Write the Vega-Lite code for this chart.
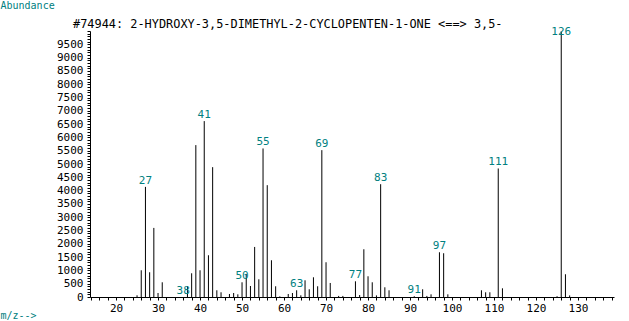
{
  "$schema": "https://vega.github.io/schema/vega-lite/v6.json",
  "width": 524,
  "height": 266,
  "autosize": {"type": "none"},
  "padding": {"left": 90, "top": 31, "right": 15, "bottom": 24},
  "background": "white",
  "title": {
    "text": "#74944: 2-HYDROXY-3,5-DIMETHYL-2-CYCLOPENTEN-1-ONE <==> 3,5-",
    "anchor": "start",
    "frame": "group",
    "dx": -17,
    "offset": -31,
    "font": "DejaVu Sans Mono",
    "fontSize": 11.9,
    "fontWeight": "normal",
    "color": "black"
  },
  "config": {"view": {"stroke": null}},
  "datasets": {
    "peaks": [
      {"mz": 25, "abundance": 64}, {"mz": 26, "abundance": 1005}, {"mz": 27, "abundance": 4140},
      {"mz": 28, "abundance": 930}, {"mz": 29, "abundance": 2597}, {"mz": 30, "abundance": 150},
      {"mz": 31, "abundance": 553}, {"mz": 37, "abundance": 403}, {"mz": 38, "abundance": 892},
      {"mz": 39, "abundance": 5710}, {"mz": 40, "abundance": 1005}, {"mz": 41, "abundance": 6613},
      {"mz": 42, "abundance": 1569}, {"mz": 43, "abundance": 4881}, {"mz": 44, "abundance": 252},
      {"mz": 45, "abundance": 177}, {"mz": 47, "abundance": 113}, {"mz": 48, "abundance": 150},
      {"mz": 49, "abundance": 100}, {"mz": 50, "abundance": 553}, {"mz": 51, "abundance": 866},
      {"mz": 52, "abundance": 414}, {"mz": 53, "abundance": 1882}, {"mz": 54, "abundance": 666},
      {"mz": 55, "abundance": 5585}, {"mz": 56, "abundance": 4204}, {"mz": 57, "abundance": 1381},
      {"mz": 58, "abundance": 403}, {"mz": 59, "abundance": 25}, {"mz": 61, "abundance": 113},
      {"mz": 62, "abundance": 150}, {"mz": 63, "abundance": 252}, {"mz": 64, "abundance": 64},
      {"mz": 65, "abundance": 628}, {"mz": 66, "abundance": 290}, {"mz": 67, "abundance": 741},
      {"mz": 68, "abundance": 403}, {"mz": 69, "abundance": 5521}, {"mz": 70, "abundance": 1306},
      {"mz": 71, "abundance": 527}, {"mz": 73, "abundance": 40}, {"mz": 74, "abundance": 40},
      {"mz": 77, "abundance": 590}, {"mz": 78, "abundance": 75}, {"mz": 79, "abundance": 1795},
      {"mz": 80, "abundance": 779}, {"mz": 81, "abundance": 553}, {"mz": 82, "abundance": 60},
      {"mz": 83, "abundance": 4241}, {"mz": 84, "abundance": 365}, {"mz": 85, "abundance": 252},
      {"mz": 91, "abundance": 30}, {"mz": 93, "abundance": 290}, {"mz": 94, "abundance": 40},
      {"mz": 95, "abundance": 100}, {"mz": 97, "abundance": 1682}, {"mz": 98, "abundance": 1645},
      {"mz": 99, "abundance": 100}, {"mz": 107, "abundance": 252}, {"mz": 108, "abundance": 177},
      {"mz": 109, "abundance": 177}, {"mz": 111, "abundance": 4832}, {"mz": 112, "abundance": 327},
      {"mz": 125, "abundance": 30}, {"mz": 126, "abundance": 9990}, {"mz": 127, "abundance": 855},
      {"mz": 128, "abundance": 60}
    ],
    "labels": [
      {"mz": 27, "abundance": 4140, "t": "27"},
      {"mz": 36, "abundance": 0, "t": "38"},
      {"mz": 41, "abundance": 6613, "t": "41"},
      {"mz": 50, "abundance": 553, "t": "50"},
      {"mz": 55, "abundance": 5585, "t": "55"},
      {"mz": 63, "abundance": 252, "t": "63"},
      {"mz": 69, "abundance": 5521, "t": "69"},
      {"mz": 77, "abundance": 590, "t": "77"},
      {"mz": 83, "abundance": 4241, "t": "83"},
      {"mz": 91, "abundance": 30, "t": "91"},
      {"mz": 97, "abundance": 1682, "t": "97"},
      {"mz": 111, "abundance": 4832, "t": "111"},
      {"mz": 126, "abundance": 9730, "t": "126"}
    ]
  },
  "layer": [
    {
      "data": {"name": "peaks"},
      "mark": {"type": "rule", "color": "black", "strokeWidth": 1},
      "encoding": {
        "x": {
          "field": "mz",
          "type": "quantitative",
          "scale": {"domain": [13.8, 138.56], "nice": false, "zero": false},
          "axis": {
            "title": "m/z-->",
            "titleX": -90,
            "titleY": 18,
            "titleAlign": "left",
            "titleBaseline": "middle",
            "titleAngle": 0,
            "titleColor": "#008080",
            "titleFont": "DejaVu Sans Mono",
            "titleFontSize": 10,
            "titleFontWeight": "normal",
            "tickCount": 62,
            "labelExpr": "datum.value % 10 === 0 ? datum.label : ''",
            "labelOverlap": false,
            "labelFlush": false,
            "tickSize": 3,
            "domainColor": "black",
            "tickColor": "black",
            "labelColor": "black",
            "labelFont": "DejaVu Sans Mono",
            "labelFontSize": 11,
            "labelPadding": 2,
            "grid": false
          }
        },
        "y": {
          "field": "abundance",
          "type": "quantitative",
          "scale": {"domain": [0, 10000], "nice": false},
          "axis": {
            "title": "Abundance",
            "titleX": -90,
            "titleY": -26,
            "titleAlign": "left",
            "titleBaseline": "middle",
            "titleAngle": 0,
            "titleColor": "#008080",
            "titleFont": "DejaVu Sans Mono",
            "titleFontSize": 10,
            "titleFontWeight": "normal",
            "tickCount": 100,
            "format": "d",
            "labelExpr": "datum.value % 500 === 0 && datum.value < 10000 ? datum.label : ''",
            "labelOverlap": false,
            "labelFlush": false,
            "tickSize": 3,
            "domainColor": "black",
            "tickColor": "black",
            "labelColor": "black",
            "labelFont": "DejaVu Sans Mono",
            "labelFontSize": 11,
            "labelPadding": 4,
            "grid": false
          }
        },
        "y2": {"datum": 0}
      }
    },
    {
      "data": {"name": "labels"},
      "mark": {"type": "text", "color": "#008080", "baseline": "bottom", "dy": -1, "font": "DejaVu Sans Mono", "fontSize": 11},
      "encoding": {
        "x": {"field": "mz", "type": "quantitative"},
        "y": {"field": "abundance", "type": "quantitative"},
        "text": {"field": "t"}
      }
    }
  ]
}
